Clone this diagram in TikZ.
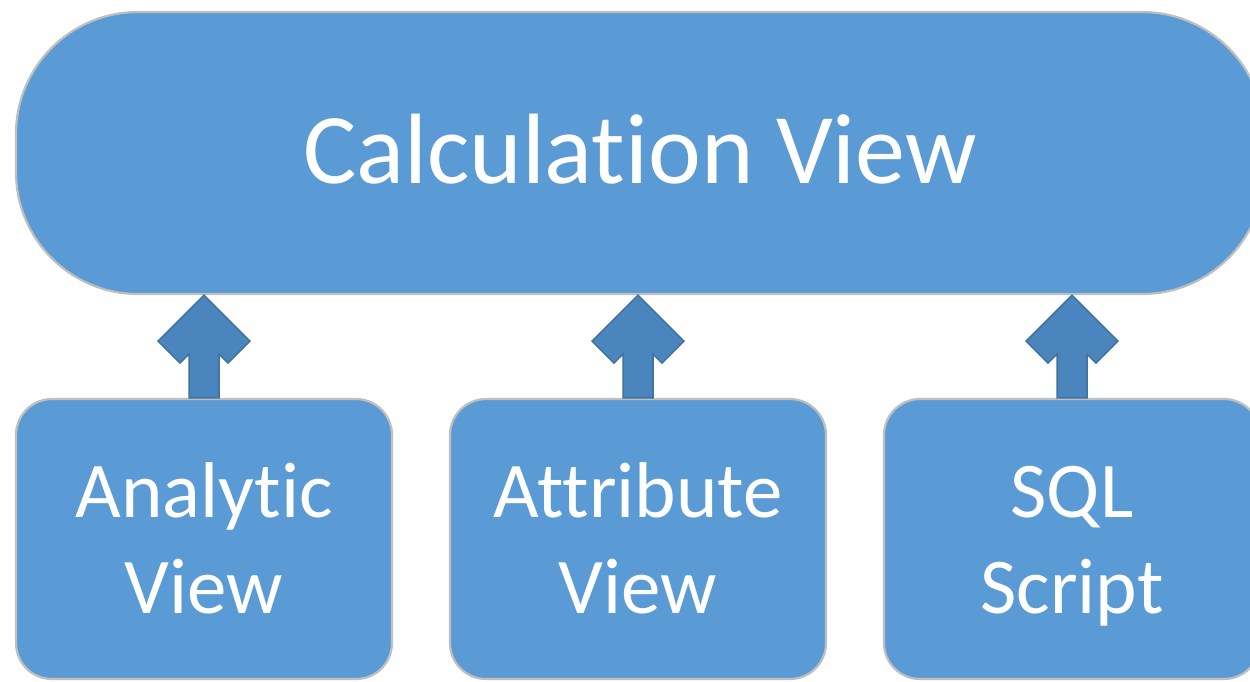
\documentclass[tikz,border=0pt]{standalone}
\usepackage{fontspec}
\setmainfont{Carlito}[Ligatures={NoCommon}]
\usetikzlibrary{calc}
\definecolor{boxblue}{HTML}{5B9BD5}
\definecolor{boxedge}{HTML}{BFBFBF}
\definecolor{arrowblue}{HTML}{4A85BD}
\definecolor{arrowedge}{HTML}{41719C}
\tikzset{
  mainbox/.style={draw=boxedge, line width=2.2pt, fill=boxblue, text=white, inner sep=0pt,
    minimum width=1248pt, minimum height=282pt, rounded corners=122pt,
    font=\fontsize{100}{120}\selectfont, text height=60pt, text depth=0pt},
  subbox/.style={draw=boxedge, line width=2.2pt, fill=boxblue, text=white, inner sep=0pt,
    minimum width=376pt, minimum height=280pt, rounded corners=36pt, align=center,
    font=\fontsize{79}{96}\selectfont},
  blockarrow/.style={draw=arrowedge, line width=1.5pt, fill=arrowblue, line join=miter}
}
\newcommand{\twolines}[2]{\rule{0pt}{80pt}#1\\#2\rule[-28pt]{0pt}{28pt}}
\begin{document}
\begin{tikzpicture}[x=1pt,y=-1pt]
\useasboundingbox (0,0) rectangle (1250,681);
\node[mainbox] (calc) at (640,153) {Calculation View};
\node[subbox] (a1) at (204,539) {\twolines{Analytic}{View}};
\node[subbox] (a2) at (638,539) {\twolines{Attribute}{View}};
\node[subbox] (a3) at (1072,539) {\twolines{SQL}{Script}};
\foreach \b in {a1,a2,a3}{
  \coordinate (t\b) at (calc.south -| \b.north);
  \draw[blockarrow] (t\b) -- ++(-46,46) -- ++(22,22) -- ++(9,-9)
    -- ([xshift=-15pt]\b.north) -- ([xshift=15pt]\b.north)
    -- ($(t\b)+(15,59)$) -- ++(9,9) -- ++(22,-22) -- cycle;
}
\end{tikzpicture}
\end{document}
